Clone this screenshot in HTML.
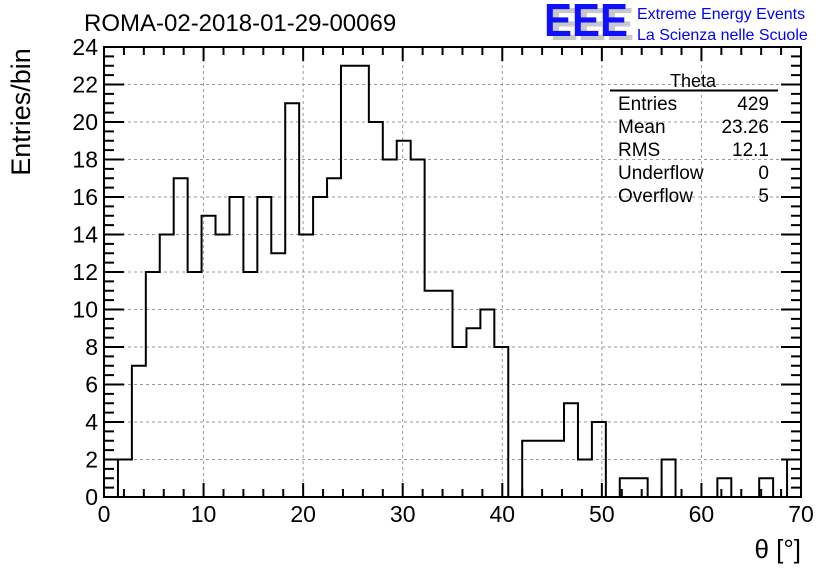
<!DOCTYPE html>
<html><head><meta charset="utf-8"><style>
body{margin:0;background:#fff;}
svg{display:block;font-family:"Liberation Sans",sans-serif;}
</style></head><body>
<svg id="c" width="836" height="572" xmlns="http://www.w3.org/2000/svg">
<text x="84" y="31" font-size="24">ROMA-02-2018-01-29-00069</text>
<g>
<text x="550" y="40" font-size="46" fill="#c8c8c8" font-weight="bold" textLength="84" lengthAdjust="spacingAndGlyphs">EEE</text>
<text x="544" y="36" font-size="46" fill="#1010ff" font-weight="bold" textLength="84" lengthAdjust="spacingAndGlyphs">EEE</text>
<text x="637" y="19" font-size="16" fill="#0000ff">Extreme Energy Events</text>
<text x="637" y="40" font-size="16" fill="#0000ff">La Scienza nelle Scuole</text>
</g>
<g id="grid"></g>
<g id="hist"></g>
<g id="axes"></g>
<text x="30" y="112" font-size="27" transform="rotate(-90 30 112)" text-anchor="middle">Entries/bin</text>
<text x="801" y="558" font-size="26" text-anchor="end">θ [°]</text>
<g>
<text x="693" y="87" font-size="18" text-anchor="middle">Theta</text>
<line x1="610" y1="90.5" x2="778" y2="90.5" stroke="#000" stroke-width="2"/>
<g font-size="19">
<text x="618" y="110">Entries</text><text x="769" y="110" text-anchor="end">429</text>
<text x="618" y="133">Mean</text><text x="769" y="133" text-anchor="end">23.26</text>
<text x="618" y="156">RMS</text><text x="769" y="156" text-anchor="end">12.1</text>
<text x="618" y="179">Underflow</text><text x="769" y="179" text-anchor="end">0</text>
<text x="618" y="202">Overflow</text><text x="769" y="202" text-anchor="end">5</text>
</g></g>
</svg>
<script>
const counts=[0,2,7,12,14,17,12,15,14,16,12,16,13,21,14,16,17,23,23,20,18,19,18,11,11,8,9,10,8,0,3,3,3,5,2,4,0,1,1,0,2,0,0,0,1,0,0,1,0,2];
const binWidth=1.4;
const xTicks=[0,10,20,30,40,50,60,70];
const yTicks=[0,2,4,6,8,10,12,14,16,18,20,22,24];
const X0=104,X1=801,Y0=497,Y1=47;
const sx=v=>X0+(v/70)*(X1-X0);
const sy=v=>Y0-(v/24)*(Y0-Y1);
const NS="http://www.w3.org/2000/svg";
function mk(t,a,p){const e=document.createElementNS(NS,t);for(const k in a)e.setAttribute(k,a[k]);p.appendChild(e);return e;}
const grid=document.getElementById('grid'),axes=document.getElementById('axes'),hist=document.getElementById('hist');
xTicks.forEach(v=>{if(v>0&&v<70){const l=mk('line',{x1:sx(v),x2:sx(v),y1:Y1,y2:Y0,stroke:'#999','stroke-dasharray':'3,3'},grid);

}});
yTicks.forEach(v=>{if(v>0&&v<24){const l=mk('line',{x1:X0,x2:X1,y1:sy(v),y2:sy(v),stroke:'#999','stroke-dasharray':'3,3'},grid);

}});
let d='M'+sx(0)+' '+sy(0);
counts.forEach((c,i)=>{d+=' L'+sx(i*binWidth)+' '+sy(c)+' L'+sx((i+1)*binWidth)+' '+sy(c);});
d+=' L'+sx(70)+' '+sy(0);
const p=mk('path',{d:d,fill:'none',stroke:'#000','stroke-width':2},hist);


const fr=mk('rect',{x:X0,y:Y1,width:X1-X0,height:Y0-Y1,fill:'none',stroke:'#000','stroke-width':2},axes);


for(let v=0;v<=70;v+=2){const L=(v%10==0)?14:8;
mk('line',{x1:sx(v),x2:sx(v),y1:Y0,y2:Y0-L,stroke:'#000','stroke-width':2},axes);
mk('line',{x1:sx(v),x2:sx(v),y1:Y1,y2:Y1+L,stroke:'#000','stroke-width':2},axes);}
for(let v=0;v<=24;v+=0.5){const L=(v%2==0)?20:10;
mk('line',{x1:X0,x2:X0+L,y1:sy(v),y2:sy(v),stroke:'#000','stroke-width':2},axes);
mk('line',{x1:X1,x2:X1-L,y1:sy(v),y2:sy(v),stroke:'#000','stroke-width':2},axes);}
xTicks.forEach(v=>{const t=mk('text',{x:sx(v),y:522,'font-size':23,'text-anchor':'middle'},axes);t.textContent=v;

});
yTicks.forEach(v=>{const t=mk('text',{x:98,y:sy(v)+8,'font-size':23,'text-anchor':'end'},axes);t.textContent=v;

});
</script>
</body></html>
